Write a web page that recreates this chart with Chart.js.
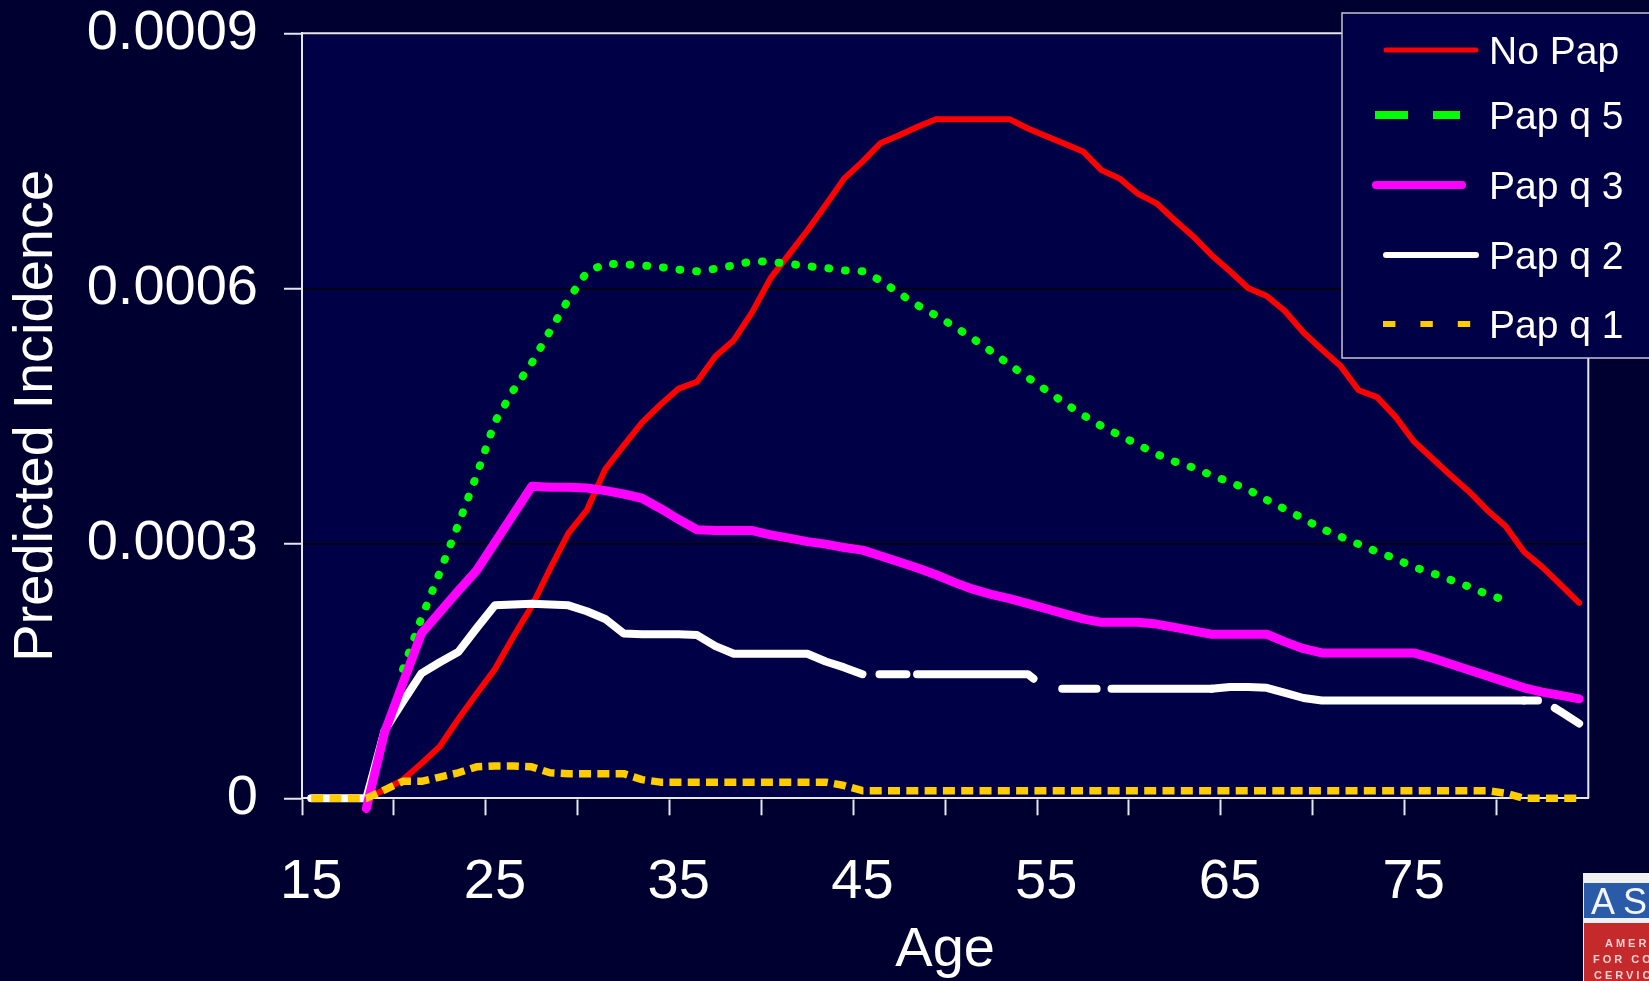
<!DOCTYPE html>
<html>
<head>
<meta charset="utf-8">
<title>Predicted Incidence by Age</title>
<script src="https://cdn.jsdelivr.net/npm/chart.js@4.4.1/dist/chart.umd.min.js"></script>
<style>
  html, body { margin: 0; padding: 0; background: #000030; overflow: hidden; }
  #myChart { display: block; }
</style>
</head>
<body>
<canvas id="myChart" width="1649" height="981"></canvas>
<script>
// categories (age in years)
const ages = [
  15, 16, 17, 18, 19, 20, 21, 22, 23, 24,
  25, 26, 27, 28, 29, 30, 31, 32, 33, 34,
  35, 36, 37, 38, 39, 40, 41, 42, 43, 44,
  45, 46, 47, 48, 49, 50, 51, 52, 53, 54,
  55, 56, 57, 58, 59, 60, 61, 62, 63, 64,
  65, 66, 67, 68, 69, 70, 71, 72, 73, 74,
  75, 76, 77, 78, 79, 80, 81, 82, 83, 84
];
const ageTickLabels = [15, 25, 35, 45, 55, 65, 75];
const yTickLabels = ["0", "0.0003", "0.0006", "0.0009"];
const seriesNames = ["No Pap", "Pap q 5", "Pap q 3", "Pap q 2", "Pap q 1"];

const noPap = [
  null, null, null, 0, 0.00001, 0.000022, 0.000041, 0.000061, 0.000093, 0.000123,
  0.000152, 0.00019, 0.000226, 0.00027, 0.000312, 0.000339, 0.000387, 0.000415, 0.000442, 0.000463,
  0.000482, 0.00049, 0.00052, 0.000539, 0.000572, 0.000612, 0.00064, 0.000668, 0.000698, 0.000729,
  0.000749, 0.000771, 0.00078, 0.00079, 0.000799, 0.000799, 0.000799, 0.000799, 0.000799, 0.000788,
  0.000779, 0.00077, 0.000761, 0.000739, 0.000729, 0.000711, 0.0007, 0.00068, 0.000661, 0.000639,
  0.00062, 0.0006, 0.000591, 0.000573, 0.000548, 0.000528, 0.000509, 0.00048, 0.000472, 0.000449,
  0.00042, 0.0004, 0.00038, 0.000361, 0.000339, 0.00032, 0.00029, 0.000272, 0.000251, 0.00023
];
const papQ5 = [
  null, null, null, null, null, 0.000152, 0.000212, 0.000266, 0.000322, 0.00038,
  0.000443, 0.00048, 0.000512, 0.00055, 0.000587, 0.000619, 0.000629, 0.000628, 0.000627, 0.000625,
  0.000622, 0.00062, 0.000623, 0.000627, 0.000632, 0.000631, 0.000629, 0.000626, 0.000624, 0.000621,
  0.00062, 0.000609, 0.000594, 0.00058, 0.000568, 0.000555, 0.000541, 0.000526, 0.00051, 0.000495,
  0.00048, 0.000465, 0.000451, 0.000438, 0.000427, 0.000416, 0.000405, 0.000396, 0.000389, 0.00038,
  0.000372, 0.000363, 0.000351, 0.00034, 0.000329, 0.000317, 0.000308, 0.000299, 0.00029, 0.000282,
  0.000272, 0.000265, 0.000257, 0.000249, 0.00024, 0.000233, null, null, null, null
];
const papQ3 = [
  null, null, null, -0.000012, 0.000078, 0.000136, 0.000194, 0.000219, 0.000244, 0.000268,
  0.000301, 0.000334, 0.000367, 0.000366, 0.000366, 0.000365, 0.000362, 0.000358, 0.000353, 0.000341,
  0.000328, 0.000316, 0.000315, 0.000315, 0.000315, 0.00031, 0.000306, 0.000302, 0.000299, 0.000295,
  0.000292, 0.000285, 0.000278, 0.000271, 0.000263, 0.000254, 0.000246, 0.00024, 0.000235, 0.000229,
  0.000223, 0.000217, 0.000211, 0.000207, 0.000207, 0.000207, 0.000205, 0.000201, 0.000197, 0.000193,
  0.000193, 0.000193, 0.000193, 0.000184, 0.000176, 0.000171, 0.000171, 0.000171, 0.000171, 0.000171,
  0.000171, 0.000165, 0.000158, 0.000151, 0.000144, 0.000137, 0.00013, 0.000125, 0.000121, 0.000117
];
const papQ2 = [
  0, 0, 0, 0, 0.00008, 0.000114, 0.000147, 0.00016, 0.000172, 0.0002,
  0.000227, 0.000228, 0.000229, 0.000228, 0.000227, 0.00022, 0.000211, 0.000194, 0.000193, 0.000193,
  0.000193, 0.000192, 0.000179, 0.00017, 0.00017, 0.00017, 0.00017, 0.00017, 0.000161, 0.000154,
  0.000146, 0.000146, 0.000146, 0.000146, 0.000146, 0.000146, 0.000146, 0.000146, 0.000146, 0.000146,
  0.000129, 0.000129, 0.000129, 0.000129, 0.000129, 0.000129, 0.000129, 0.000129, 0.000129, 0.000129,
  0.000131, 0.000131, 0.00013, 0.000124, 0.000118, 0.000115, 0.000115, 0.000115, 0.000115, 0.000115,
  0.000115, 0.000115, 0.000115, 0.000115, 0.000115, 0.000115, 0.000115, 0.000115, 0.000102, 0.000088
];
const papQ1 = [
  0, 0, 0, 0, 0.00001, 0.00002, 0.00002, 0.000025, 0.00003, 0.000037,
  0.000038, 0.000038, 0.000037, 0.00003, 0.000029, 0.000029, 0.000029, 0.000029, 0.000022, 0.000019,
  0.000019, 0.000019, 0.000019, 0.000019, 0.000019, 0.000019, 0.000019, 0.000019, 0.000019, 0.000015,
  0.000009, 0.000009, 0.000009, 0.000009, 0.000009, 0.000009, 0.000009, 0.000009, 0.000009, 0.000009,
  0.000009, 0.000009, 0.000009, 0.000009, 0.000009, 0.000009, 0.000009, 0.000009, 0.000009, 0.000009,
  0.000009, 0.000009, 0.000009, 0.000009, 0.000009, 0.000009, 0.000009, 0.000009, 0.000009, 0.000009,
  0.000009, 0.000009, 0.000009, 0.000009, 0.000009, 0.000006, 0, 0, 0, 0
];

Chart.defaults.font.family = "'Liberation Sans', Arial, sans-serif";
Chart.defaults.color = "#ffffff";

const frameColor = "#e6e6f0";

// the Pap q 2 line is broken into dashes in a few places
function whiteDash(c) {
  const age = ages[c.p0DataIndex];
  if (age >= 45 && age < 55) return [1000, 17, 27, 10.6, 118, 1000];
  if (age >= 55 && age < 64) return [1000, 16, 34.4, 14.9, 1000];
  if (age === 81) return [14, 100];
  if (age >= 82) return [1000, 14.5, 100];
  return [];
}
function whiteDashOffset(c) {
  const age = ages[c.p0DataIndex];
  if ((age >= 45 && age < 64) || age >= 82) return 1000;
  return 0;
}

const backdrop = {
  id: "backdrop",
  beforeDraw(chart) {
    const { ctx, chartArea: a } = chart;
    ctx.save();
    ctx.fillStyle = "#000030";
    ctx.fillRect(0, 0, chart.width, chart.height);
    ctx.fillStyle = "#000046";
    ctx.fillRect(a.left, a.top, a.right - a.left, a.bottom - a.top);
    ctx.restore();
  },
  beforeDatasetsDraw(chart) {
    // top + right edge of the plot frame
    const { ctx, chartArea: a } = chart;
    ctx.save();
    ctx.strokeStyle = frameColor;
    ctx.lineWidth = 2;
    ctx.beginPath();
    ctx.moveTo(a.left, a.top);
    ctx.lineTo(a.right, a.top);
    ctx.lineTo(a.right, a.bottom);
    ctx.stroke();
    ctx.restore();
  }
};

// legend box drawn over the top right corner, like the slide
const legendSamples = [
  { color: "#ff0000", width: 5, dash: [], cap: "round", x0: 1386, x1: 1476, y: 50 },
  { color: "#00ff00", width: 8, dash: [33, 25], cap: "butt", x0: 1375, x1: 1460, y: 115 },
  { color: "#ff00ff", width: 8, dash: [], cap: "round", x0: 1376, x1: 1462, y: 185 },
  { color: "#ffffff", width: 6, dash: [], cap: "round", x0: 1386, x1: 1476, y: 255 },
  { color: "#ffcc00", width: 6, dash: [12.4, 25], cap: "butt", x0: 1383, x1: 1471, y: 324 }
];
const legendBox = {
  id: "legendBox",
  afterDraw(chart) {
    const ctx = chart.ctx;
    ctx.save();
    ctx.fillStyle = "#000046";
    ctx.fillRect(1342, 13, 320, 345);
    ctx.strokeStyle = "#c4c4d4";
    ctx.lineWidth = 1.5;
    ctx.strokeRect(1342, 13, 320, 345);
    legendSamples.forEach(function (s, i) {
      ctx.strokeStyle = s.color;
      ctx.lineWidth = s.width;
      ctx.lineCap = s.cap;
      ctx.setLineDash(s.dash);
      ctx.beginPath();
      ctx.moveTo(s.x0, s.y);
      ctx.lineTo(s.x1, s.y);
      ctx.stroke();
      ctx.setLineDash([]);
      ctx.fillStyle = "#ffffff";
      ctx.font = "39px 'Liberation Sans', Arial, sans-serif";
      ctx.textBaseline = "alphabetic";
      ctx.textAlign = "left";
      ctx.fillText(seriesNames[i], 1489, s.y + 14);
    });
    ctx.restore();
  }
};

// society logo peeking in at the bottom right
const logo = {
  id: "logo",
  afterDraw(chart) {
    const ctx = chart.ctx;
    ctx.save();
    ctx.fillStyle = "#f0f0f0";
    ctx.fillRect(1583, 873, 80, 108);
    ctx.fillStyle = "#2a5ba8";
    ctx.fillRect(1584, 883, 80, 35);
    ctx.fillStyle = "#c42a2c";
    ctx.fillRect(1584, 923, 80, 58);
    ctx.fillStyle = "#f4f4ff";
    ctx.font = "36px 'Liberation Sans', Arial, sans-serif";
    ctx.letterSpacing = "8px";
    ctx.textBaseline = "alphabetic";
    ctx.fillText("ASCCP", 1591, 914);
    ctx.fillStyle = "#f6d0d0";
    ctx.font = "bold 11px 'Liberation Sans', Arial, sans-serif";
    ctx.letterSpacing = "3px";
    ctx.fillText("AMERICAN SOCIETY", 1605, 947);
    ctx.fillText("FOR COLPOSCOPY AND", 1593, 963);
    ctx.fillText("CERVICAL PATHOLOGY", 1594, 979);
    ctx.restore();
  }
};

const ctx = document.getElementById("myChart").getContext("2d");
const myChart = new Chart(ctx, {
  type: "line",
  data: {
    labels: ages,
    datasets: [
      {
        label: seriesNames[0],
        data: noPap,
        borderColor: "#ff0000",
        borderWidth: 6,
        borderCapStyle: "round",
        order: 5,
      },
      {
        label: seriesNames[1],
        data: papQ5,
        borderColor: "#00ff00",
        borderWidth: 8,
        borderDash: [0.8, 15.9],
        borderCapStyle: "round",
        order: 4,
      },
      {
        label: seriesNames[2],
        data: papQ3,
        borderColor: "#ff00ff",
        borderWidth: 9,
        borderCapStyle: "round",
        order: 2,
      },
      {
        label: seriesNames[3],
        data: papQ2,
        borderColor: "#ffffff",
        borderWidth: 8,
        borderCapStyle: "round",
        order: 3,
        segment: {
          borderDash: whiteDash,
          borderDashOffset: whiteDashOffset,
        },
      },
      {
        label: seriesNames[4],
        data: papQ1,
        borderColor: "#ffcc00",
        borderWidth: 7.5,
        borderDash: [12, 6.3],
        borderCapStyle: "butt",
        order: 1,
      },
    ],
  },
  options: {
    responsive: false,
    animation: false,
    devicePixelRatio: 1,
    events: [],
    layout: {
      padding: { left: 0, right: 60.7, top: 33.3, bottom: 0 },
    },
    elements: {
      point: { radius: 0 },
      line: { tension: 0, fill: false, borderJoinStyle: "round" },
    },
    datasets: {
      line: { clip: false, spanGaps: false },
    },
    plugins: {
      legend: { display: false },
      tooltip: { enabled: false },
    },
    scales: {
      x: {
        type: "category",
        offset: true,
        grid: {
          offset: true,
          drawOnChartArea: false,
          drawTicks: true,
          tickLength: 17,
          tickWidth: 2,
          tickColor: function (c) {
            return c.index % 5 === 0 ? frameColor : "rgba(0,0,0,0)";
          },
        },
        border: { color: frameColor, width: 2 },
        ticks: {
          autoSkip: false,
          maxRotation: 0,
          minRotation: 0,
          padding: 34,
          color: "#ffffff",
          font: { size: 56 },
          callback: function (v, i) {
            return ageTickLabels.includes(ages[i]) ? String(ages[i]) : "";
          },
        },
        title: {
          display: true,
          text: "Age",
          color: "#ffffff",
          font: { size: 56, lineHeight: 1 },
          padding: { top: 0, bottom: 2 },
        },
        afterFit: function (scale) {
          scale.height = 182.7;
          scale.paddingLeft = 0;
          scale.paddingRight = 0;
        },
      },
      y: {
        min: 0,
        max: 0.0009,
        grid: {
          color: "#000000",
          lineWidth: 1.5,
          drawTicks: true,
          tickLength: 18,
          tickWidth: 2,
          tickColor: frameColor,
        },
        border: { color: frameColor, width: 2 },
        ticks: {
          stepSize: 0.0003,
          padding: 26,
          color: "#ffffff",
          font: { size: 56, lineHeight: 1 },
          callback: function (v, i) {
            return yTickLabels[i];
          },
        },
        title: {
          display: true,
          text: "Predicted Incidence",
          color: "#ffffff",
          font: { size: 56, lineHeight: 1 },
          padding: { top: 9, bottom: 0 },
        },
        afterFit: function (scale) {
          scale.width = 302;
          // keep the plot top where the slide has it
          scale.paddingTop = 0;
          scale.paddingBottom = 0;
        },
      },
    },
  },
  plugins: [backdrop, legendBox, logo],
});
</script>
</body>
</html>
